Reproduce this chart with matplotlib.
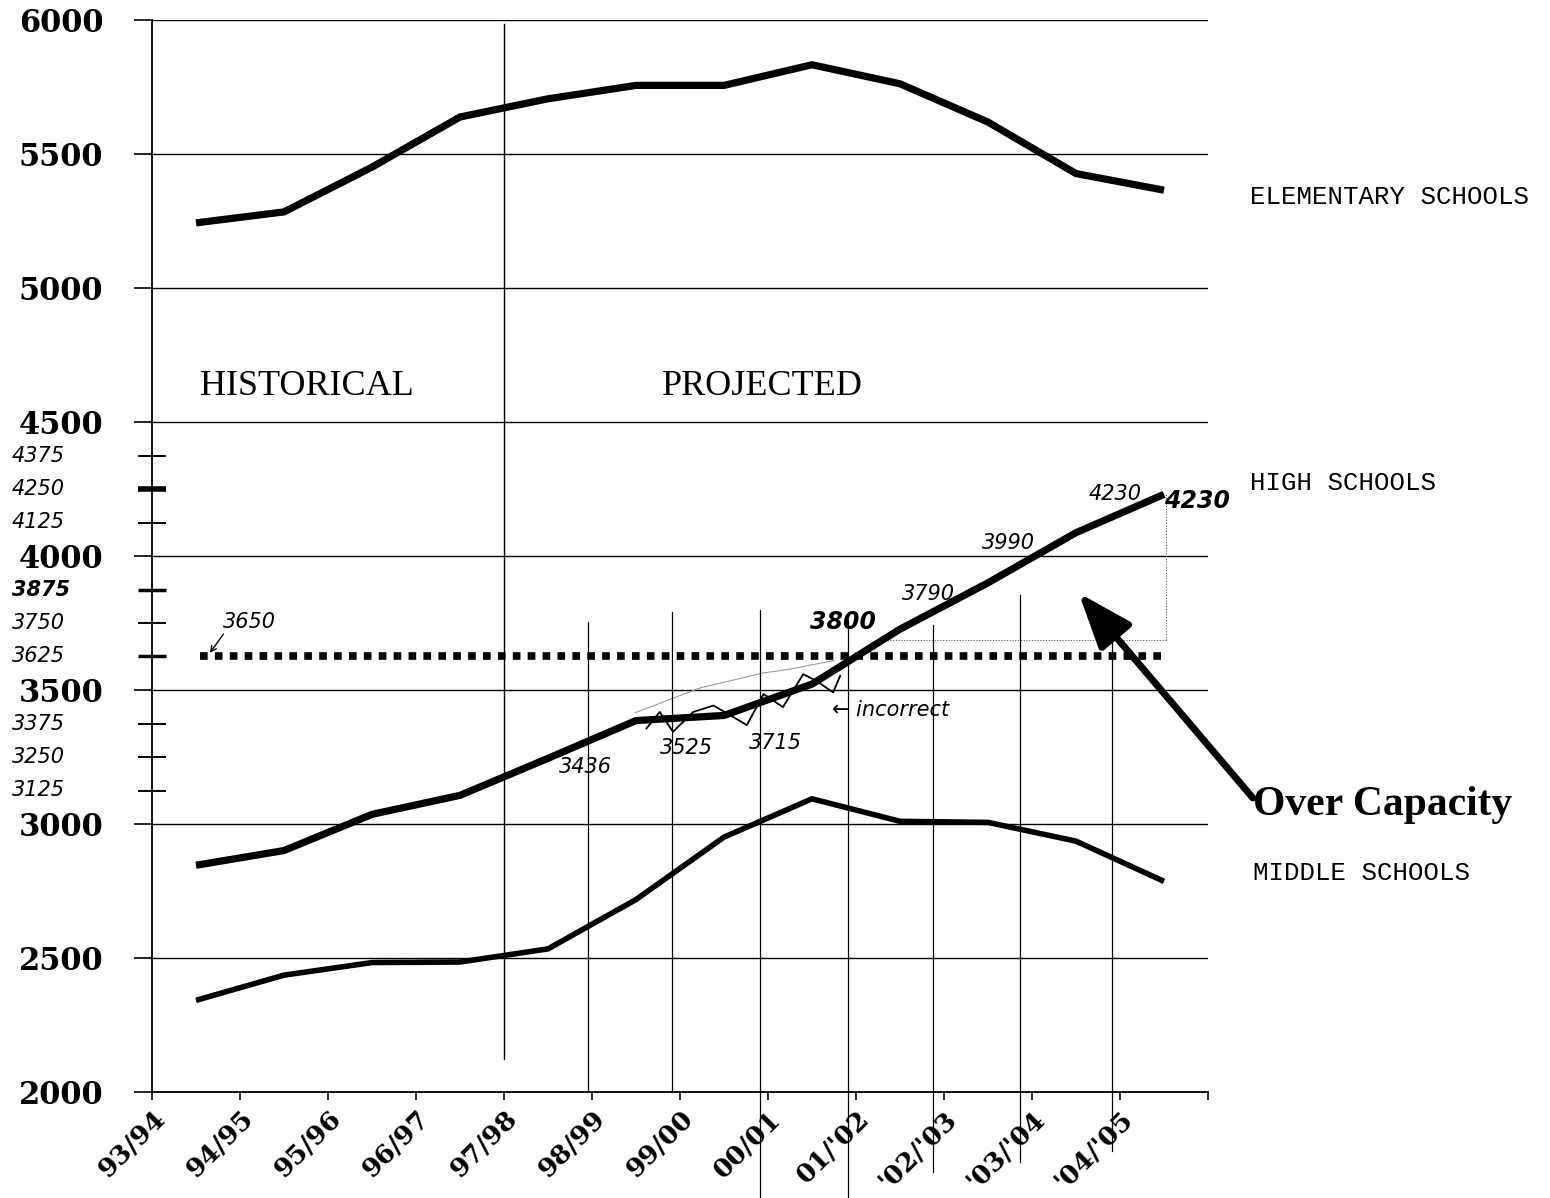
import numpy as np
import matplotlib
matplotlib.use("Agg")
import matplotlib.pyplot as plt
from matplotlib.transforms import blended_transform_factory

# ---------------- data ----------------
years = ["93/94", "94/95", "95/96", "96/97", "97/98", "98/99", "99/00",
         "00/01", "01/'02", "'02/'03", "'03/'04", "'04/'05"]
elementary = [5243, 5284, 5451, 5638, 5706, 5756, 5756, 5833, 5762, 5619, 5427, 5365]
high = [2846, 2901, 3036, 3107, 3245, 3386, 3405, 3522, 3727, 3900, 4087, 4230]
middle = [2342, 2436, 2483, 2485, 2534, 2718, 2951, 3094, 3010, 3006, 2936, 2786]
capacity = 3625

y_ticks = [2000, 2500, 3000, 3500, 4000, 4500, 5000, 5500, 6000]
hand_ticks = [4375, 4250, 4125, 3875, 3750, 3625, 3375, 3250, 3125]
hand_tick_labels = ["4375", "4250", "4125", "3875", "3750", "3625", "3375", "3250", "3125"]

# handwritten notes: text, x (category units), y (enrolment), bold
note_text = ["3650", "3436", "3525", "3715", "\u2190 incorrect", "3800", "3790", "3990", "4230", "4230"]
note_x = [1.11, 4.92, 6.07, 7.09, 8.39, 7.85, 8.82, 9.73, 10.94, 11.88]
note_y = [3755, 3211, 3285, 3303, 3425, 3755, 3858, 4049, 4233, 4207]
note_bold = [False, False, False, False, False, True, False, False, False, True]

# pencil vertical guide lines drawn by hand
pencil_x = [4.95, 5.91, 6.91, 7.91, 8.88, 9.86, 10.91]
pencil_top = [3754, 3791, 3799, 3761, 3743, 3854, 3687]
pencil_bottom = [2000, 2000, 1605, 1610, 1700, 1740, 1780]

# hand squiggle along the high-school line
squiggle_x = [5.62, 5.77, 5.92, 6.15, 6.38, 6.57, 6.76, 6.95, 7.17, 7.40, 7.55, 7.74, 7.82]
squiggle_y = [3357, 3418, 3344, 3418, 3442, 3406, 3369, 3485, 3436, 3559, 3534, 3491, 3553]
pencil_curve_x = [5.49, 6.23, 6.94, 7.25, 7.75]
pencil_curve_y = [3415, 3508, 3563, 3578, 3610]

# ---------------- figure ----------------
fig = plt.figure(figsize=(15.5, 11.98), dpi=100)
ax = fig.add_axes([152 / 1550, 1 - 1092 / 1198, (1208 - 152) / 1550, (1092 - 20) / 1198])
ax.set_xlim(0, 12)
ax.set_ylim(2000, 6000)

x = np.arange(len(years)) + 0.5

ax.plot(x, elementary, color="black", lw=5.2, solid_capstyle="butt", zorder=5)
ax.plot(x, high, color="black", lw=5.2, solid_capstyle="butt", zorder=5)
ax.plot(x, middle, color="black", lw=4.0, solid_capstyle="butt", zorder=5)
ax.plot([x[0] + 0.05, x[-1] + 0.05], [capacity, capacity], color="black", lw=5.5,
        linestyle=(0, (1, 0.95)), dash_capstyle="butt", zorder=4)

# historical / projected divider
ax.plot([4, 4], [2125, 5985], color="black", lw=1.0, zorder=3)

# pencil verticals
for px, pt, pb in zip(pencil_x, pencil_top, pencil_bottom):
    ax.plot([px, px], [pb, pt], color="black", lw=0.9, clip_on=False, zorder=3)

# dotted over-capacity box
ax.plot([8.35, 11.52], [3687, 3687], color="#555555", lw=0.8, linestyle=(0, (1, 1.5)))
ax.plot([11.52, 11.52], [3687, 4230], color="#555555", lw=0.8, linestyle=(0, (1, 1.5)))
ax.plot([9.95, 10.45], [3990, 4080], color="#777777", lw=0.8, linestyle=(0, (1, 1.5)))

# squiggle & pencil curve
ax.plot(squiggle_x, squiggle_y, color="black", lw=1.3, zorder=6)
ax.plot(pencil_curve_x, pencil_curve_y, color="#999999", lw=0.8, zorder=2)

# grid & spines
ax.set_yticks(y_ticks)
ax.yaxis.grid(True, color="black", lw=1.0)
ax.set_axisbelow(True)
for s in ("top", "right"):
    ax.spines[s].set_visible(False)
ax.spines["left"].set_linewidth(1.3)
ax.spines["bottom"].set_linewidth(1.3)

ax.set_yticklabels([str(v) for v in y_ticks], fontfamily="DejaVu Serif",
                   fontweight="bold", fontsize=22)
ax.tick_params(axis="y", which="major", direction="out", length=13, width=1.2, pad=22)
ax.set_yticks(hand_ticks, minor=True)
ax.tick_params(axis="y", which="minor", direction="inout", length=20, width=1.4)
mt = ax.yaxis.get_minor_ticks()
for i, v in enumerate(hand_ticks):
    if v in (4250, 3625, 3875):
        mt[i].tick1line.set_markeredgewidth(4 if v == 4250 else 2.5)

ax.set_xticks(range(13))
ax.set_xticklabels(years + [""], fontfamily="DejaVu Serif", fontweight="bold",
                   fontsize=19, rotation=45, ha="right", va="top",
                   rotation_mode="anchor")
ax.tick_params(axis="x", direction="out", length=6, width=1.2, pad=4)

# handwritten axis labels
ytr = blended_transform_factory(ax.transAxes, ax.transData)
for v, lab in zip(hand_ticks, hand_tick_labels):
    bold = v in (3875,)
    ax.text(-0.133, v, lab, transform=ytr, ha="left", va="center",
            fontsize=15, fontfamily="DejaVu Sans",
            fontweight="bold" if bold else "light", fontstyle="italic")

# section labels
ax.text(0.545, 4631, "HISTORICAL", fontfamily="Liberation Serif", fontsize=26,
        ha="left", va="center")
ax.text(5.8, 4631, "PROJECTED", fontfamily="Liberation Serif", fontsize=26,
        ha="left", va="center")

# series labels
ax.text(12.48, 5340, "ELEMENTARY SCHOOLS", fontfamily="Liberation Mono", fontsize=18.5,
        ha="left", va="center")
ax.text(12.48, 4272, "HIGH SCHOOLS", fontfamily="Liberation Mono", fontsize=18.5,
        ha="left", va="center")
ax.text(12.51, 2817, "MIDDLE SCHOOLS", fontfamily="Liberation Mono", fontsize=18.5,
        ha="left", va="center")
ax.text(12.51, 3071, "Over Capacity", fontfamily="Liberation Serif", fontweight="bold",
        fontsize=30, ha="left", va="center")

ax.annotate("", xy=(10.53, 3862), xytext=(12.51, 3097),
            arrowprops=dict(arrowstyle="-|>,head_length=1.2,head_width=0.45",
                            mutation_scale=28, lw=5, color="black",
                            shrinkA=0, shrinkB=0),
            annotation_clip=False)

# handwritten notes
for t, nx, ny, b in zip(note_text, note_x, note_y, note_bold):
    ax.text(nx, ny, t, fontsize=15 if not b else 17, fontfamily="DejaVu Sans",
            fontweight="bold" if b else "light", fontstyle="italic",
            ha="center", va="center", zorder=7)
ax.annotate("", xy=(0.64, 3630), xytext=(0.83, 3717),
            arrowprops=dict(arrowstyle="->", lw=1.0, color="black"))

fig.savefig("out.png", dpi=100)
